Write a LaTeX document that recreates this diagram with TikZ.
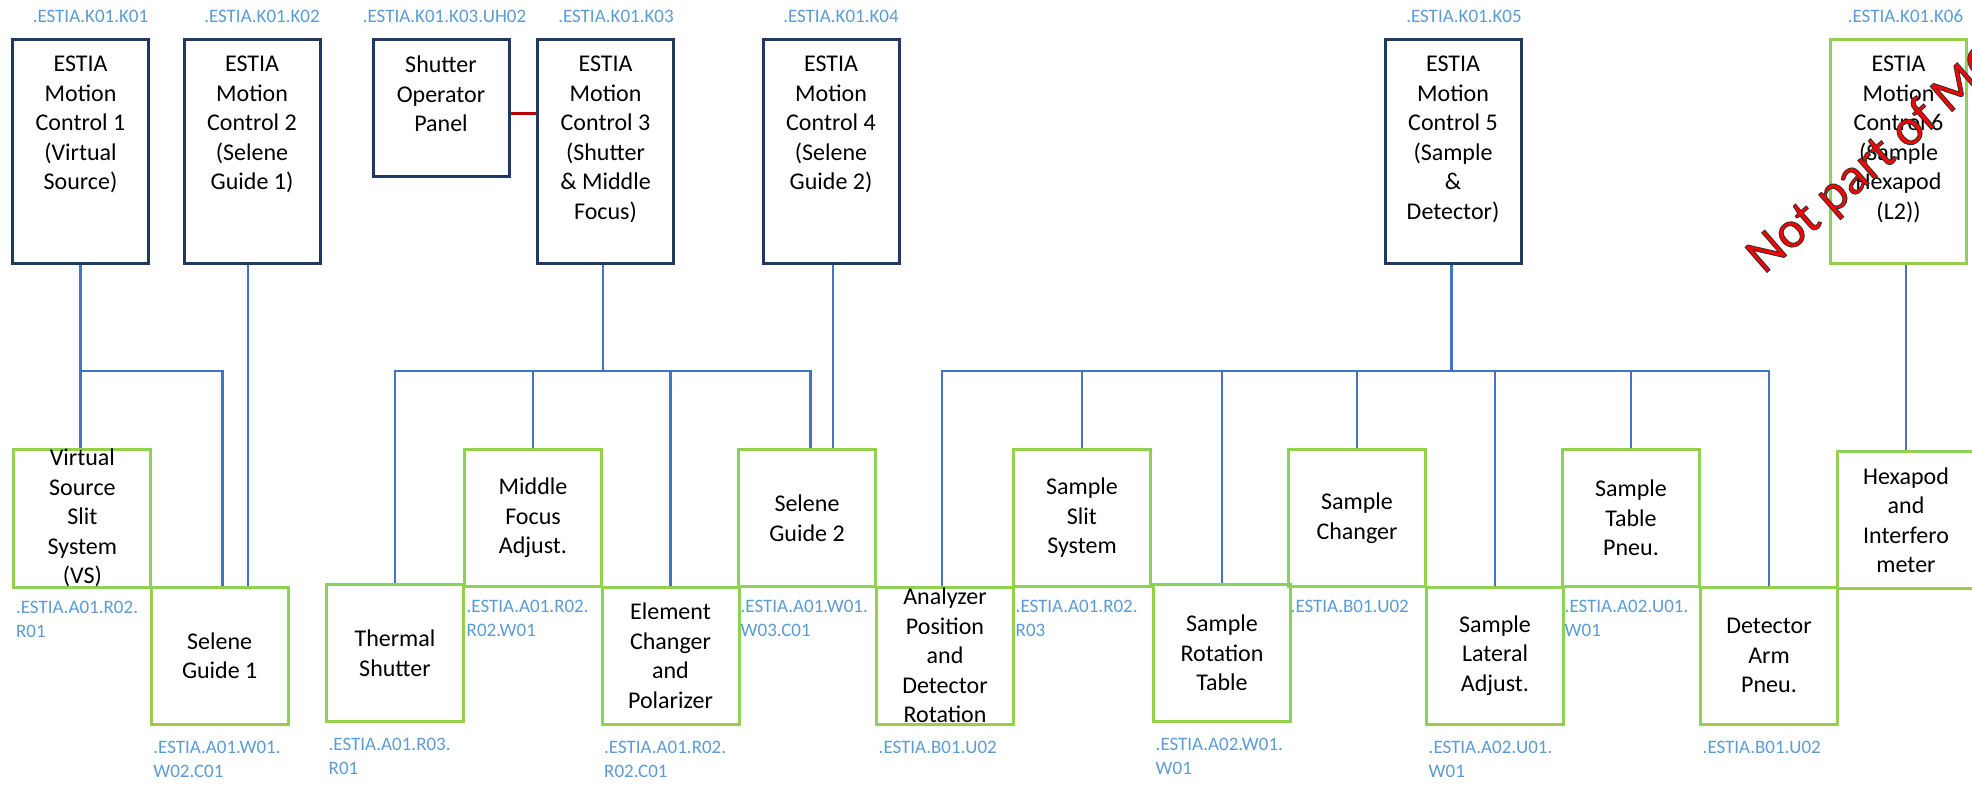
\documentclass[tikz,border=0pt]{standalone}
\usepackage{fontspec}
\setmainfont{Carlito}
\usepackage{xcolor}
\usepackage{tikz}
\usetikzlibrary{positioning}
\definecolor{esnavy}{RGB}{31, 56, 100}
\definecolor{esgreen}{RGB}{146, 208, 80}
\definecolor{esblue}{RGB}{68, 114, 196}
\definecolor{eslabel}{RGB}{91, 155, 213}
\definecolor{esred}{RGB}{192, 0, 0}
\newcommand{\toptext}[2]{\parbox[c][#1][t]{136pt}{\centering\vspace*{17pt}#2}}
\newcommand{\stamptext}[1]{{\color{red}\special{pdf:literal direct 0.2 0.2 0.2 RG 0.9 w 2 Tr}#1\special{pdf:literal direct 0 Tr}}}

\begin{document}
\begin{tikzpicture}[x=1pt, y=-1pt,
  ctrl/.style={draw=esnavy, line width=3pt, inner sep=0pt, font=\fontsize{24}{29.5}\selectfont},
  unit/.style={draw=esgreen, line width=3pt, inner sep=0pt, minimum width=137pt, minimum height=137pt, align=center, font=\fontsize{24}{29.5}\selectfont},
  tag/.style={text=eslabel, inner sep=0pt, align=left, font=\fontsize{19}{24}\selectfont},
  wire/.style={draw=esblue, line width=2.8pt},
  link/.style={draw=esred, line width=3pt}]
\clip (0,0) rectangle (1972,785);

% motion controllers
\node[ctrl] (k01) at (80.5,151) {\toptext{224pt}{ESTIA\\Motion\\Control 1\\(Virtual\\Source)}};
\node[ctrl] (k02) at (252,151) {\toptext{224pt}{ESTIA\\Motion\\Control 2\\(Selene\\Guide 1)}};
\node[ctrl] (sop) at (441,107.5) {\toptext{137pt}{Shutter\\Operator\\Panel}};
\node[ctrl] (k03) at (605.5,151) {\toptext{224pt}{ESTIA\\Motion\\Control 3\\(Shutter\\\& Middle\\Focus)}};
\node[ctrl] (k04) at (831,151) {\toptext{224pt}{ESTIA\\Motion\\Control 4\\(Selene\\Guide 2)}};
\node[ctrl] (k05) at (1453,151) {\toptext{224pt}{ESTIA\\Motion\\Control 5\\(Sample\\\&\\Detector)}};
\node[ctrl, draw=esgreen] (k06) at (1898.5,151) {\toptext{224pt}{ESTIA\\Motion\\Control 6\\(Sample\\Hexapod\\(L2))}};

\node[tag, above=15pt of k01.north, xshift=10pt] (k01tag) {.ESTIA.K01.K01};
\node[tag, above=15pt of k02.north, xshift=10pt] (k02tag) {.ESTIA.K01.K02};
\node[tag, above=15pt of sop.north, xshift=3.5pt] (soptag) {.ESTIA.K01.K03.UH02};
\node[tag, above=15pt of k03.north, xshift=10.5pt] (k03tag) {.ESTIA.K01.K03};
\node[tag, above=15pt of k04.north, xshift=10pt] (k04tag) {.ESTIA.K01.K04};
\node[tag, above=15pt of k05.north, xshift=11pt] (k05tag) {.ESTIA.K01.K05};
\node[tag, above=15pt of k06.north, xshift=7pt] (k06tag) {.ESTIA.K01.K06};

% axes, upper row
\node[unit] (vs) at (82.4,518) {Virtual\\Source\\Slit\\System\\(VS)};
\node[unit] (mfa) at (533,518) {Middle\\Focus\\Adjust.};
\node[unit] (sg2) at (807,518) {Selene\\Guide 2};
\node[unit] (sss) at (1082,518) {Sample\\Slit\\System};
\node[unit] (sc) at (1357,518) {Sample\\Changer};
\node[unit] (stp) at (1631,518) {Sample\\Table\\Pneu.};
\node[unit] (hex) at (1906,520) {Hexapod\\and\\Interfero\\meter};

% axes, lower row
\node[unit] (sg1) at (219.7,655.5) {Selene\\Guide 1};
\node[unit] (ts) at (395,653) {Thermal\\Shutter};
\node[unit] (ecp) at (670.5,655.5) {Element\\Changer\\and\\Polarizer};
\node[unit] (apd) at (945,655.5) {Analyzer\\Position\\and\\Detector\\Rotation};
\node[unit] (srt) at (1222,653) {Sample\\Rotation\\Table};
\node[unit] (sla) at (1495,655.5) {Sample\\Lateral\\Adjust.};
\node[unit] (dap) at (1769,655.5) {Detector\\Arm\\Pneu.};

\node[tag, below right=12pt and 3.5pt of vs.south west] (vstag) {.ESTIA.A01.R02.\\R01};
\node[tag, below right=12pt and 3.5pt of mfa.south west] (mfatag) {.ESTIA.A01.R02.\\R02.W01};
\node[tag, below right=12pt and 3.5pt of sg2.south west] (sg2tag) {.ESTIA.A01.W01.\\W03.C01};
\node[tag, below right=12pt and 3.5pt of sss.south west] (ssstag) {.ESTIA.A01.R02.\\R03};
\node[tag, below right=12pt and 3.5pt of sc.south west] (sctag) {.ESTIA.B01.U02};
\node[tag, below right=12pt and 3.5pt of stp.south west] (stptag) {.ESTIA.A02.U01.\\W01};

\node[tag, below right=15pt and 3.5pt of sg1.south west] (sg1tag) {.ESTIA.A01.W01.\\W02.C01};
\node[tag, below right=15pt and 3.5pt of ts.south west] (tstag) {.ESTIA.A01.R03.\\R01};
\node[tag, below right=15pt and 3.5pt of ecp.south west] (ecptag) {.ESTIA.A01.R02.\\R02.C01};
\node[tag, below right=15pt and 3.5pt of apd.south west] (apdtag) {.ESTIA.B01.U02};
\node[tag, below right=15pt and 3.5pt of srt.south west] (srttag) {.ESTIA.A02.W01.\\W01};
\node[tag, below right=15pt and 3.5pt of sla.south west] (slatag) {.ESTIA.A02.U01.\\W01};
\node[tag, below right=15pt and 3.5pt of dap.south west] (daptag) {.ESTIA.B01.U02};

% cabling
\coordinate (bus) at (0,371);
\draw[wire] (k01.south) -- (k01.south |- vs.north);
\draw[wire] (k01.south |- bus) -| ([xshift=2.5pt]sg1.north);
\draw[wire] ([xshift=-4pt]k02.south) -- ([xshift=-4pt]k02.south |- sg1.north);

\draw[wire] ([xshift=-2.5pt]k03.south) -- ([xshift=-2.5pt]k03.south |- bus);
\draw[wire] (ts.north) |- ([xshift=3.5pt]sg2.north |- bus) -- ([xshift=3.5pt]sg2.north);
\draw[wire] (mfa.north) -- (mfa.north |- bus);
\draw[wire] (ecp.north) -- (ecp.north |- bus);
\draw[wire] ([xshift=2pt]k04.south) -- ([xshift=2pt]k04.south |- sg2.north);

\draw[wire] ([xshift=-1.5pt]k05.south) -- ([xshift=-1.5pt]k05.south |- bus);
\draw[wire] ([xshift=-3pt]apd.north) |- (dap.north |- bus) -- (dap.north);
\foreach \u in {sss,srt,sc,sla,stp}
  \draw[wire] (\u.north) -- (\u.north |- bus);

\draw[wire] (hex.north) -- (hex.north |- k06.south);
\draw[link] ([yshift=-5.5pt]sop.east) -- ([yshift=-5.5pt]sop.east -| k03.west);

% stamp
\node[rotate=41, anchor=base west, inner sep=0pt, font=\fontsize{52}{60}\selectfont] (notmc) at (1764,275) {\stamptext{Not part of MC}};
\end{tikzpicture}
\end{document}
